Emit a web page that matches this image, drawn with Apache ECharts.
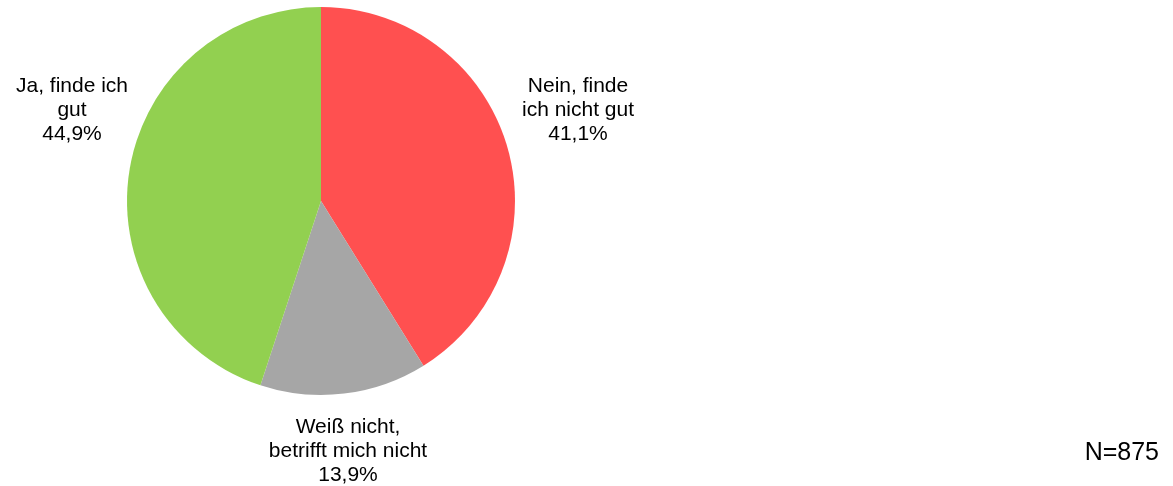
<!DOCTYPE html>
<html>
<head>
<meta charset="utf-8">
<script src="https://cdn.jsdelivr.net/npm/echarts@6/dist/echarts.min.js"></script>
<style>
html, body { margin: 0; padding: 0; background: #fff; }
#chart { width: 1173px; height: 486px; }
</style>
</head>
<body>
<div id="chart"></div>
<script>
// answer categories, in drawing order (clockwise from 12 o'clock)
var categories = ['Nein, finde\nich nicht gut', 'Weiß nicht,\nbetrifft mich nicht', 'Ja, finde ich\ngut'];
var shares = [41.1, 13.9, 44.9];
var sliceColors = ['#FF5050', '#A6A6A6', '#92D050'];
var sampleNote = 'N=875';

// where each label sits (centre of the text block)
var labelPos = [[578, 110], [348, 451], [72, 110]];

var myChart = echarts.init(document.getElementById('chart'));
var option = {
  animation: false,
  textStyle: { fontFamily: 'Liberation Sans, Arial, sans-serif' },
  graphic: [{
    type: 'text',
    right: 14,
    top: 441,
    style: {
      text: sampleNote,
      fontSize: 25,
      fill: '#000',
      fontFamily: 'Liberation Sans, Arial, sans-serif'
    }
  }],
  series: [{
    type: 'pie',
    center: [321, 201],
    radius: 194,
    startAngle: 90,
    clockwise: true,
    avoidLabelOverlap: false,
    data: categories.map(function (c, i) {
      return { name: c, value: shares[i], itemStyle: { color: sliceColors[i] } };
    }),
    label: {
      show: true,
      position: 'outside',
      formatter: function (p) {
        return p.name + '\n' + p.value.toFixed(1).replace('.', ',') + '%';
      },
      color: '#000',
      fontSize: 21,
      lineHeight: 24,
      align: 'center'
    },
    labelLine: { show: false },
    labelLayout: function (params) {
      var pos = labelPos[params.dataIndex];
      return { x: pos[0], y: pos[1], align: 'center', verticalAlign: 'middle' };
    },
    emphasis: { disabled: true }
  }]
};
myChart.setOption(option);
</script>
</body>
</html>
